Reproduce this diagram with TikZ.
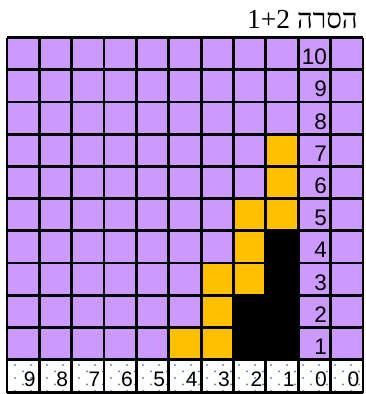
\documentclass[tikz,border=0pt]{standalone}
\usepackage{fontspec}
\setmainfont{Liberation Sans}
\newfontfamily\hebfont[Script=Hebrew]{Liberation Serif}
\TeXXeTstate=1
\definecolor{lilac}{RGB}{204,153,255}
\definecolor{amber}{RGB}{255,192,0}
\definecolor{dotblue}{RGB}{95,135,215}
\begin{document}
\begin{tikzpicture}[x=1pt,y=-1pt,
  gridline/.style={line width=2.8pt,black},
  rownum/.style={anchor=base east,inner sep=0pt,font=\fontsize{22.5}{26}\selectfont},
  colnum/.style={anchor=base east,inner sep=0pt,font=\fontsize{21}{25}\selectfont},
  titletext/.style={anchor=base east,inner sep=0pt,font=\hebfont\fontsize{27.5}{31}\selectfont}]
\def\Lx{7}\def\W{32.36}\def\T{37.5}\def\H{32.2}\def\B{392.5}
\useasboundingbox (0,0) rectangle (366,394);
\fill[white] (0,0) rectangle (366,394);
% purple field
\fill[lilac] (\Lx,\T) rectangle (363,359.5);
% orange cells (col, row from bottom)
\foreach \c/\r in {5/1,6/1,6/2,6/3,7/3,7/4,7/5,8/5,8/6,8/7}{
  \fill[amber] ({\Lx+\c*\W},{\T+(10-\r)*\H}) rectangle ({\Lx+(\c+1)*\W},{\T+(11-\r)*\H});
}
% black cells
\foreach \c/\r in {7/1,8/1,7/2,8/2,8/3,8/4}{
  \fill[black] ({\Lx+\c*\W},{\T+(10-\r)*\H}) rectangle ({\Lx+(\c+1)*\W},{\T+(11-\r)*\H});
}
% dotted bottom row
\begin{scope}
\clip (\Lx,359.5) rectangle (363,\B);
\foreach \i in {0,...,45}{
  \foreach \j in {-1,...,3}{
    \fill[dotblue] ({15+8*\i},{365+13*\j+6.5*mod(\i,2)}) circle (1.1pt);
  }
}
\end{scope}
% grid lines
\foreach \i in {0,...,11}{
  \draw[gridline] ({\Lx+\i*\W},\T) -- ({\Lx+\i*\W},\B);
}
\foreach \j in {0,...,10}{
  \draw[gridline] (\Lx,{\T+\j*\H}) -- (363,{\T+\j*\H});
}
\draw[gridline] (\Lx,\B) -- (363,\B);
% row numbers
\foreach \r in {1,...,10}{
  \node[rownum] (n\r) at ({\Lx+10*\W-3.5},{\T+(11-\r)*\H-5}) {\r};
}
% column labels
\foreach \c/\lab in {0/9,1/8,2/7,3/6,4/5,5/4,6/3,7/2,8/1,9/0,10/0}{
  \node[colnum] (b\c) at ({\Lx+(\c+1)*\W-3.5},386.5) {\lab};
}
% title
\node[titletext] (title) at (358,28) {\beginR הסרה \beginL 1+2\endL\endR};
\end{tikzpicture}
\end{document}
